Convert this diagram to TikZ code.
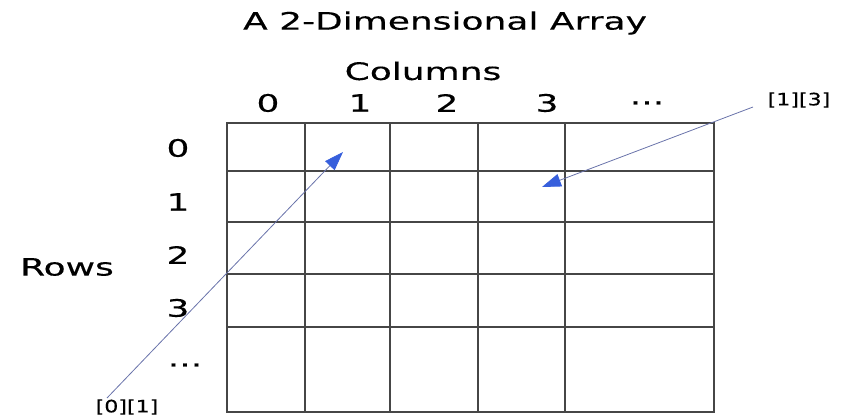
\documentclass[tikz,border=0pt]{standalone}
\usepackage{fontspec}
\setmainfont{DejaVu Sans}[FakeStretch=1.5, FakeBold=0.3]
\newfontfamily\indexfont{DejaVu Sans}[FakeStretch=1.3, FakeBold=0.4]
\usetikzlibrary{arrows.meta}
\definecolor{tipblue}{RGB}{55,95,220}
\definecolor{lineblue}{RGB}{105,115,170}
\definecolor{gridgray}{RGB}{70,70,70}

\begin{document}
\begin{tikzpicture}[x=1pt, y=1pt,
        big/.style={font=\fontsize{24}{28}\selectfont, inner sep=0pt},
        small/.style={font=\indexfont\fontsize{17}{20}\selectfont, inner sep=0pt},
        gridline/.style={draw=gridgray, line width=1.3pt},
        pointer/.style={draw=lineblue, line width=0.8pt, -{Triangle[length=19pt, width=13pt, color=tipblue]}}
    ]
        \useasboundingbox (0,0) rectangle (842,419);

        \node[big] (title) at (445,396) {A 2-Dimensional Array};
        \node[big] (columns) at (423,348) {Columns};
        \node[big] (rows) at (67,152) {Rows};

        % column and row indices
        \foreach \c/\x in {0/268, 1/360, 2/447, 3/547}
            \node[big] (col-\x) at (\x,316) {\c};
        \node[big] (col-more) at (647,316) {...};
        \foreach \r/\y in {0/271, 1/217, 2/164, 3/111}
            \node[big] (row-\y) at (178,\y) {\r};
        \node[big] (row-more) at (185,54) {...};

        % the array
        \foreach \x in {305,390,478,565}
            \draw[gridline] (\x,7) -- (\x,296);
        \foreach \y in {92,145,197,248}
            \draw[gridline] (227,\y) -- (714,\y);
        \draw[gridline] (227,7) rectangle (714,296);

        % element pointers
        \coordinate (from01) at (107,21);
        \coordinate (tip01) at (343,267);
        \coordinate (from13) at (753,312);
        \coordinate (tip13) at (542,232);
        \node[small] (lab01) at (127,12) {[0][1]};
        \node[small] (lab13) at (799,319) {[1][3]};
        \draw[pointer] (from01) -- (tip01);
        \draw[pointer] (from13) -- (tip13);
    \end{tikzpicture}
\end{document}
